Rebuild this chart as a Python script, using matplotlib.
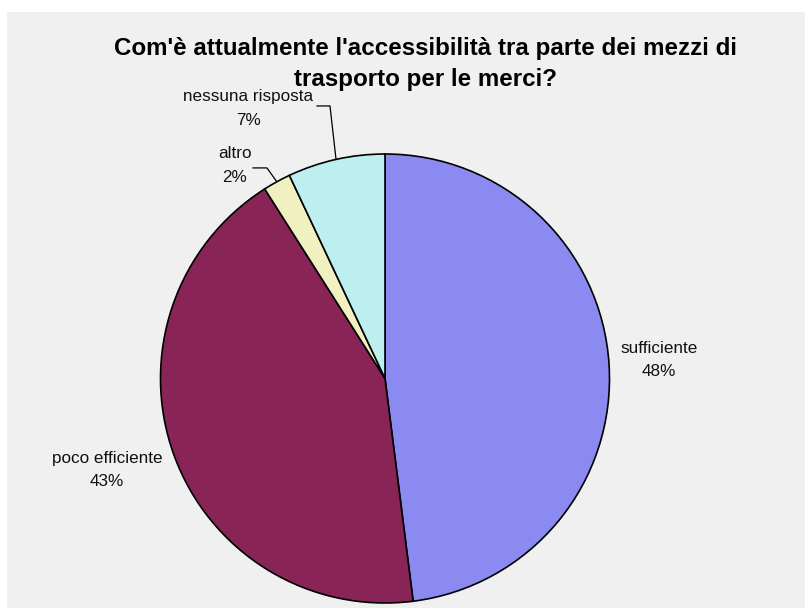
import matplotlib.pyplot as plt
import numpy as np
from matplotlib.patches import Rectangle

plt.rcParams['font.family'] = ['Liberation Sans', 'DejaVu Sans']

# dati
categorie = ['sufficiente', 'poco efficiente', 'altro', 'nessuna risposta']
valori = [48, 43, 2, 7]
colori = ['#8A8AF0', '#892456', '#F0F0C0', '#BDEFF0']
titolo = "Com'è attualmente l'accessibilità tra parte dei mezzi di\ntrasporto per le merci?"

W, H = 805, 608
fig = plt.figure(figsize=(W / 100, H / 100), dpi=100)
fig.patch.set_facecolor('white')
# sfondo grigio dell'area del grafico
fig.add_artist(Rectangle((7 / W, 0), 1 - 7 / W, 1 - 12 / H, transform=fig.transFigure,
                         facecolor='#F0F0F0', edgecolor='none', zorder=0))

cx, cy, r = 385, 378.5, 224.5
ax = fig.add_axes([(cx - r) / W, (H - cy - r) / H, 2 * r / W, 2 * r / H])
ax.set_facecolor('none')

wedges, _ = ax.pie(valori, colors=colori, startangle=90, counterclock=False,
                   wedgeprops=dict(edgecolor='black', linewidth=1.2))
ax.set_xlim(-1, 1)
ax.set_ylim(-1, 1)
ax.set_aspect('equal')
ax.axis('off')

# posizioni delle etichette (layout)
pos_etichette = [(1.220, 0.082), (-1.238, -0.408), (-0.670, 0.949), (-0.610, 1.203)]
for w, nome, v, (tx, ty) in zip(wedges, categorie, valori, pos_etichette):
    ax.text(tx, ty, f'{nome}\n{v}%', ha='center', va='center', fontsize=12.3,
            linespacing=1.68, color='#111111', clip_on=False)

# linee guida per le fette piccole
gomiti = {2: [(-0.526, 0.938), (-0.588, 0.938)], 3: [(-0.245, 1.214), (-0.303, 1.214)]}
for i, pts in gomiti.items():
    w = wedges[i]
    ang = np.deg2rad((w.theta1 + w.theta2) / 2)
    xs = [np.cos(ang)] + [p[0] for p in pts]
    ys = [np.sin(ang)] + [p[1] for p in pts]
    ax.plot(xs, ys, color='black', lw=0.9, clip_on=False)

fig.text(425 / W, 1 - 64 / H, titolo, ha='center', va='center', fontsize=17.4,
         fontweight='bold', linespacing=1.45)

fig.savefig('out.png', dpi=100)
